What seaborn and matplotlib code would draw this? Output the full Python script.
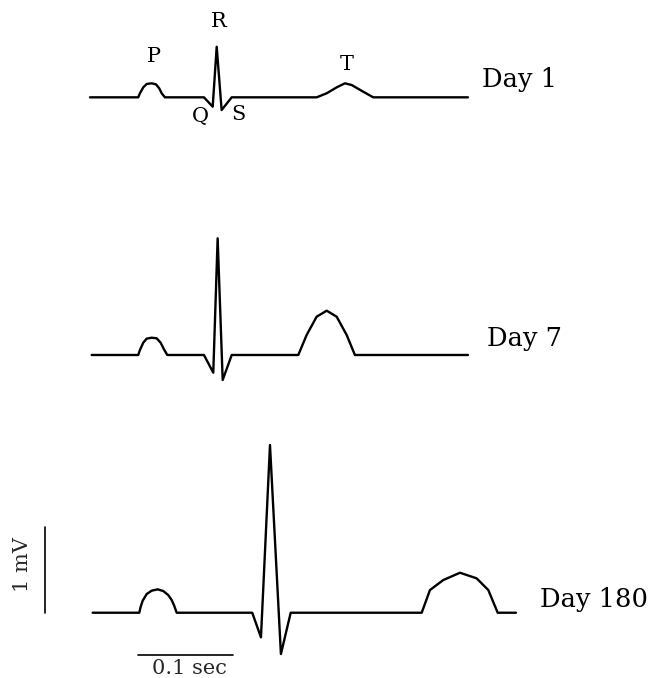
import numpy as np
import pandas as pd
import matplotlib
matplotlib.use("Agg")
import matplotlib.pyplot as plt
import seaborn as sns

# ---- data (time in ms, voltage in mV relative to each trace's baseline) ----
day1_t = [-2.1, 48.7, 50.5, 54.0, 57.6, 62.8, 67.4, 70.8, 73.4, 76.8,
          117.9, 127.1, 131.3, 136.5, 147.1,
          236.5, 247.1, 257.6, 266.3, 273.4, 285.6, 296.1, 395.8]
day1_v = [0, 0, 0.047, 0.116, 0.155, 0.163, 0.151, 0.105, 0.047, 0,
          0, -0.109, 0.588, -0.148, 0,
          0, 0.047, 0.116, 0.163, 0.143, 0.065, 0, 0]

day7_t = [-0.3, 48.7, 50.5, 54.0, 57.6, 62.8, 68.1, 72.3, 75.8, 79.3,
          117.9, 127.7, 132.3, 137.6, 147.1,
          217.2, 226.0, 236.5, 247.1, 257.6, 268.1, 276.8, 395.8]
day7_v = [0, 0, 0.058, 0.143, 0.190, 0.201, 0.194, 0.143, 0.066, 0,
          0, -0.206, 1.357, -0.291, 0,
          0, 0.233, 0.445, 0.515, 0.445, 0.233, 0, 0]

day180_t = [0.7, 49.8, 51.3, 53.4, 57.6, 62.8, 69.2, 75.1, 80.3, 83.9, 86.3, 89.2,
            168.7, 177.9, 187.4, 198.9, 209.2,
            347.1, 355.8, 369.8, 387.4, 404.9, 417.2, 427.1, 446.3]
day180_v = [0, 0, 0.07, 0.14, 0.217, 0.256, 0.272, 0.252, 0.205, 0.148, 0.089, 0,
            0, -0.286, 1.95, -0.48, 0,
            0, 0.264, 0.380, 0.465, 0.400, 0.264, 0, 0]

trace_names = ["Day 1", "Day 7", "Day 180"]
baselines = [6.752, 3.756, 0.759]          # vertical offset of each trace (mV)
label_pos = [(410.2, 6.962), (415.5, 3.950), (471.6, 0.907)]

wave_labels = ["P", "R", "T", "Q", "S"]
wave_label_pos = [(65.3, 7.221), (133.7, 7.631), (268.1, 7.128), (113.7, 6.527), (153.7, 6.547)]

mv_bar_t = -49.5
mv_bar = (0.756, 1.756)        # 1 mV
sec_bar_y = 0.267
sec_bar = (48.7, 148.7)        # 0.1 s = 100 ms

# ---- build long table ----
frames = []
for name, t, v, b in zip(trace_names, [day1_t, day7_t, day180_t],
                         [day1_v, day7_v, day180_v], baselines):
    frames.append(pd.DataFrame({"t": t, "v": np.array(v) + b, "trace": name}))
df = pd.concat(frames, ignore_index=True)

sns.set_style("white")
plt.rcParams["font.family"] = ["DejaVu Serif"]

fig = plt.figure(figsize=(6.63, 6.78), dpi=100)
ax = fig.add_axes([0, 0, 1, 1])

for name in trace_names:
    sub = df[df["trace"] == name]
    sns.lineplot(data=sub, x="t", y="v", sort=False, estimator=None, color="black",
                 linewidth=1.7, ax=ax, legend=False)

for name, (x, y) in zip(trace_names, label_pos):
    ax.text(x, y, name, fontsize=18.5, ha="left", va="center", color="black")

for lab, (x, y) in zip(wave_labels, wave_label_pos):
    ax.text(x, y, lab, fontsize=15, ha="center", va="center", color="black")

# scale bars
ax.plot([mv_bar_t, mv_bar_t], list(mv_bar), color="black", linewidth=1.2)
ax.text(-72.6, 1.314, "1 mV", rotation=90, fontsize=15, ha="center", va="center")
ax.plot(list(sec_bar), [sec_bar_y, sec_bar_y], color="black", linewidth=1.2)
ax.text(103.0, 0.105, "0.1 sec", fontsize=15, ha="center", va="center")

ax.set_xlim(-96.8, 601.1)
ax.set_ylim(0, 678 / 86)
ax.set_axis_off()

fig.savefig("out.png", dpi=100, facecolor="white")
